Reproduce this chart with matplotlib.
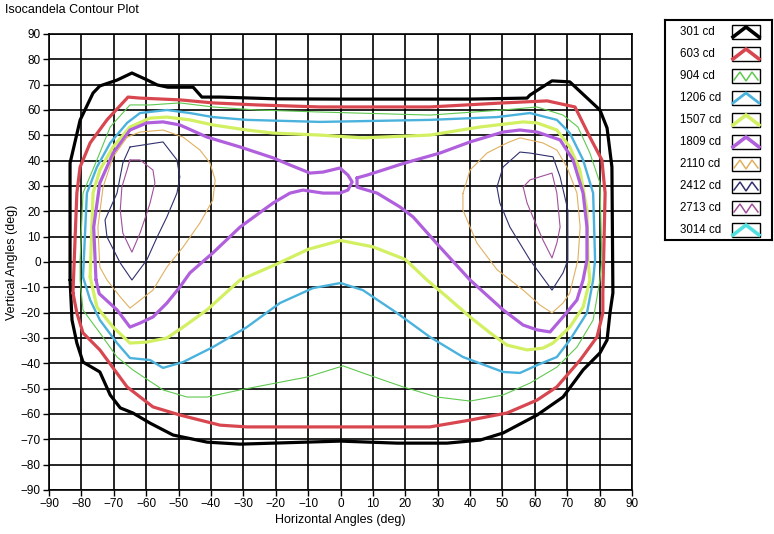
import matplotlib
matplotlib.use("Agg")
import matplotlib.pyplot as plt
from matplotlib.patches import Rectangle

plt.rcParams['font.family'] = ['Liberation Sans', 'DejaVu Sans']

# candela levels and their drawing style
levels = ['301 cd', '603 cd', '904 cd', '1206 cd', '1507 cd', '1809 cd',
          '2110 cd', '2412 cd', '2713 cd', '3014 cd']
colors = ['#000000', '#d8474f', '#5fc94f', '#4ab2dc', '#d2f062', '#b060dc',
          '#e0b060', '#30306e', '#a0509a', '#50e0e0']
widths = [2.3, 2.3, 0.8, 1.7, 2.3, 2.3, 0.8, 0.8, 0.8, 2.3]
thick = [True, True, False, True, True, True, False, False, False, True]

# contour loops (horizontal deg, vertical deg)
c301_x = [-83.5, -83.5, -80.4, -76.4, -74.3, -69, -64.4, -59.6, -56.6, -53.3, -45.5, -42.8, -37.2,
          -20, 0, 20, 40, 57.6, 58.5, 65.3, 70.8, 80.1, 82.3, 83.8, 84.1, 83.2, 82.3, 80.1, 74.9,
          68.7, 60.7, 50.2, 43.1, 32.9, 17.4, 0, -20.8, -31, -41.2, -51.7, -58.8, -64.1, -68,
          -71.1, -74.3, -79.5, -81.4, -82.9, -83.5]
c301_y = [-7.1, 39, 56, 66.7, 69.5, 71.8, 74.6, 71.8, 69.9, 69, 69, 65.1, 65.1,
          64.4, 64.3, 64.3, 64.3, 64.7, 65.9, 71.5, 71.1, 60, 52.9, 37.5, -12.2, -20.1, -30.8, -35.9, -42.6,
          -53.3, -60.4, -67.5, -70.3, -71.5, -71.5, -70.7, -71.5, -71.9, -71.1, -68.3, -63.6, -59.6, -57.6,
          -52.5, -43.4, -39.5, -32, -22.9, -7.1]

c603_x = [-82.6, -81.4, -80.4, -77.3, -72.1, -65.6, -61.9, -49.6, -39.4, -25.8, -6.3, 27.6, 50.2,
          63.8, 72.4, 77, 80.7, 81.7, 81, 81, 79.2, 74, 66.8, 60.7, 51.4, 40, 27.6, 0, -28.9,
          -37.2, -49.6, -57.9, -65.9, -74.3, -79.5, -81.4, -82.6]
c603_y = [-12.2, 27.2, 37.5, 47, 56.1, 65.1, 64.7, 64, 62.8, 62, 61.2, 61.2, 62.8,
          63.6, 61.2, 49.3, 40.3, 27.2, -12.2, -20.1, -29.6, -38.7, -49.3, -54.5, -59.6, -62.4, -65.1, -65.1, -65.1,
          -64.4, -60.4, -57.2, -49.3, -34.7, -28, -20.1, -12.2]

c904_x = [-80.4, -79.5, -75.2, -71.1, -65, -58.8, -49.6, -39.4, -25.8, -6.3, 27.6, 50.2, 60.7,
          68.7, 73.3, 77, 80.1, 80.7, 80.1, 78, 73, 66.8, 58.5, 50.2, 40, 29.8, 19.3, 6.9, 0.8,
          -10.3, -31, -41.2, -47.4, -54.8, -64.1, -69, -74.3, -79.5, -80.4, -80.4]
c904_y = [0.8, 27.2, 40.3, 53.3, 62, 62, 62.8, 61.2, 60, 59.2, 58, 60, 61.2,
          58, 53.3, 43, 31.2, 0.8, -7.1, -22.9, -33.6, -41.5, -47.8, -52.5, -54.9, -53.3, -49.3, -43.8, -41,
          -45.4, -50.5, -53.3, -53.3, -50.5, -42.6, -37.5, -28, -19, -7.1, 0.8]

c1206_x = [-79.5, -78.3, -75.2, -71.1, -65.9, -61.9, -53.6, -46.5, -39.4, -28.9, -6.3, 27.6, 48.3,
           58.5, 66.8, 70.8, 74.9, 78, 78.6, 78, 76.1, 70.8, 66.8, 60.7, 55.4, 50.2, 37.8, 27.6,
           17.4, 6.9, 0, -8.5, -18.7, -28.9, -39.4, -48.6, -54.8, -58.8, -65, -69, -74.3, -77.3, -79.5]
c1206_y = [-5.9, 27.2, 37.5, 47, 54.9, 58.8, 60, 58.8, 57.2, 56.1, 55.3, 56.1, 57.2,
           58.8, 56.1, 50.9, 40.3, 27.2, 0.8, -7.1, -20.1, -30.8, -37.5, -40.7, -43.8, -43.4, -37.5, -29.6,
           -20.1, -11.1, -8.3, -10.3, -16.2, -25.7, -33.6, -39.5, -41.8, -38.7, -37.9, -32, -22.9, -15, -5.9]

c1507_x = [-77.3, -76.4, -74.3, -70.2, -65, -58.8, -53.6, -46.5, -39.4, -28.9, -20.8, -6.3, 6.9,
           27.6, 43.1, 56.4, 60.7, 66.8, 70.8, 73.9, 76.1, 76.4, 77, 74.9, 70.8, 65.6, 62.5, 57.6,
           51.4, 46.2, 40, 32.9, 26.7, 20, 10, 0, -10, -20, -31, -41.2, -48.6, -53.6, -59.8, -65,
           -70.2, -75.2, -77.3]
c1507_y = [-5.9, 27.2, 36.3, 45.4, 53.3, 56.8, 57.2, 56.1, 54.1, 52.1, 50.9, 50.1, 49,
           50.1, 53.3, 55.3, 54.9, 52.1, 45.4, 36.3, 20.5, 0.8, -7.1, -17.8, -25.7, -32, -34, -34.7,
           -32.8, -28, -21.7, -13.8, -7.1, 1, 6, 8.5, 5, -1, -7.1, -18.9, -25.7, -30, -31.6, -32,
           -25.7, -17.8, -5.9]

c1809_left_x = [-75.5, -76.2, -74.3, -70.2, -65, -59.8, -54.8, -49.6, -41.2, -31, -20.8, -15.6, -9.4,
                -5.4, -0.2, 2.3, 3.6, 2.3, -0.2, -5.4, -11.6, -15.6, -20.8, -31, -39.4, -46.5, -49.6,
                -53.6, -57.9, -61.9, -65, -69, -74.5, -75.5]
c1809_left_y = [-7, 13.8, 31.2, 43, 52.1, 54.9, 55.3, 54.1, 49.3, 45.4, 41.1, 38.3, 35.1,
                35.5, 37.1, 34.3, 31.6, 28.4, 27.2, 27.2, 28.4, 27.2, 23.3, 13.8, 3.6, -4.3, -9.9,
                -16.2, -21.7, -24.1, -25.7, -18.9, -12.5, -7]
c1809_right_x = [5.1, 8.2, 13.1, 18.4, 22.4, 30.7, 40, 50.2, 55.4, 60.7, 67.8, 71.8, 74.9, 76.1,
                 76.1, 74.9, 73, 68.7, 64.7, 60.7, 56.4, 50.2, 40, 30.7, 22.4, 18.4, 11.3, 6, 5.1, 5.1]
c1809_right_y = [33.2, 34.3, 36.3, 38.5, 40, 43, 47.4, 51.3, 52.1, 51.3, 48.2, 40.3, 27.2, 13.8,
                 0.8, -7.1, -15, -21.7, -27.6, -26.8, -24.9, -18.9, -7.1, 5.9, 17.8, 21.7, 27.2, 29.2, 29.6, 33.2]

c2110_left_x = [-65.9, -61.9, -54.8, -48.6, -43.4, -40.3, -38.7, -39.4, -43.4, -48.6, -53.6, -57.9,
                -65, -68, -72.1, -74.3, -74.9, -73.3, -70.2, -65.9]
c2110_left_y = [49.3, 51.3, 52.1, 49.3, 44.2, 39.1, 32.4, 24.5, 15.4, 5.9, -2, -11.1,
                -18.2, -13.8, -7.1, -2, 13.8, 29.6, 41.5, 49.3]
c2110_right_x = [37.8, 40, 45.2, 51.4, 55.4, 62.5, 66.8, 69.9, 73, 74, 73.3, 70.8, 68.7, 65.3,
                 61.6, 56.4, 48.3, 42.1, 37.8, 37.8]
c2110_right_y = [27, 36.3, 43, 47, 49, 47, 44.2, 37.5, 27.2, 13.8, 0.8, -12.2, -16.2, -20.1,
                 -17, -11.1, -3, 7.5, 20.5, 27]

c2412_left_x = [-65, -54.8, -50.5, -49.6, -50.5, -53.6, -56.6, -59.8, -64.4, -68, -72.1, -72.7, -69, -67.2, -65]
c2412_left_y = [45.4, 47.4, 40.3, 33.6, 27.2, 17.8, 9.9, 0.8, -7.1, -0.4, 9.9, 16.6, 27.2, 39.1, 45.4]
c2412_right_x = [48.3, 50.2, 55.4, 58.5, 65.6, 67.8, 70.2, 70.2, 68.7, 65.3, 58.5, 52.3, 49.2, 48.3]
c2412_right_y = [29.6, 37.5, 43.4, 43, 41.5, 33.6, 20.5, 0.8, -4.3, -11.1, 0.8, 13.8, 23.3, 29.6]

c2713_left_x = [-65, -61.9, -57.9, -57.3, -58.8, -59.8, -61.9, -64.4, -67.2, -68, -67.5, -65.9, -65]
c2713_left_y = [40.3, 40.3, 36.3, 31.2, 23.3, 19.3, 11.4, 3.9, 11.4, 20.5, 29.6, 36.3, 40.3]
c2713_right_x = [56.4, 58.5, 65.3, 66.8, 67.8, 66.8, 65.3, 62.5, 59.4, 57.6, 56.4]
c2713_right_y = [29.6, 32.4, 35.1, 27.2, 13.8, 7.5, 1.6, 8.7, 17.8, 23.3, 29.6]

loops = [
    (0, c301_x, c301_y), (1, c603_x, c603_y), (2, c904_x, c904_y),
    (3, c1206_x, c1206_y), (4, c1507_x, c1507_y),
    (5, c1809_left_x, c1809_left_y), (5, c1809_right_x, c1809_right_y),
    (6, c2110_left_x, c2110_left_y), (6, c2110_right_x, c2110_right_y),
    (7, c2412_left_x, c2412_left_y), (7, c2412_right_x, c2412_right_y),
    (8, c2713_left_x, c2713_left_y), (8, c2713_right_x, c2713_right_y),
]

ticks = list(range(-90, 91, 10))

fig = plt.figure(figsize=(7.74, 5.34), dpi=100)
ax = fig.add_axes([49/774, 44/534, 583/774, 456/534])

for lv, xs, ys in loops:
    ax.plot(xs, ys, color=colors[lv], lw=widths[lv], solid_joinstyle='round',
            solid_capstyle='round', zorder=3)

ax.set_xlim(-90, 90)
ax.set_ylim(-90, 90)
ax.set_xticks(ticks)
ax.set_yticks(ticks)
ax.grid(True, color='black', lw=1.2, zorder=1)
ax.set_axisbelow(True)
ax.tick_params(labelsize=8.5, length=4, width=1, direction='out', pad=2)
for s in ax.spines.values():
    s.set_linewidth(1.2)
ax.set_xlabel('Horizontal Angles (deg)', fontsize=9, labelpad=3)
ax.set_ylabel('Vertical Angles (deg)', fontsize=9, labelpad=2)
fig.text(5/774, 1 - 10/534, 'Isocandela Contour Plot', fontsize=9, va='center', ha='left')

# legend panel on the right
lg = fig.add_axes([665/774, (534-240)/534, 107/774, 220/534])
lg.set_xlim(0, 107)
lg.set_ylim(220, 0)
lg.set_xticks([])
lg.set_yticks([])
for s in lg.spines.values():
    s.set_linewidth(1.5)
for i, name in enumerate(levels):
    yc = 12 + 22 * i
    lg.text(15, yc, name, fontsize=8.3, va='center', ha='left')
    bx, by, bw, bh = 67, yc - 7, 28, 14
    lg.add_patch(Rectangle((bx, by), bw, bh, fill=False, ec='black', lw=1))
    if thick[i]:
        px = [bx + 1, bx + bw / 2, bx + bw - 1]
        py = [by + bh - 2, by + 2, by + bh - 2]
    else:
        px = [bx + 2, bx + 8, bx + 14, bx + 20, bx + 26]
        py = [by + bh - 3, by + 3, by + bh - 2, by + 3, by + bh - 3]
    lg.plot(px, py, color=colors[i], lw=widths[i] + 0.3, solid_joinstyle='miter')

fig.savefig('out.png', dpi=100)
